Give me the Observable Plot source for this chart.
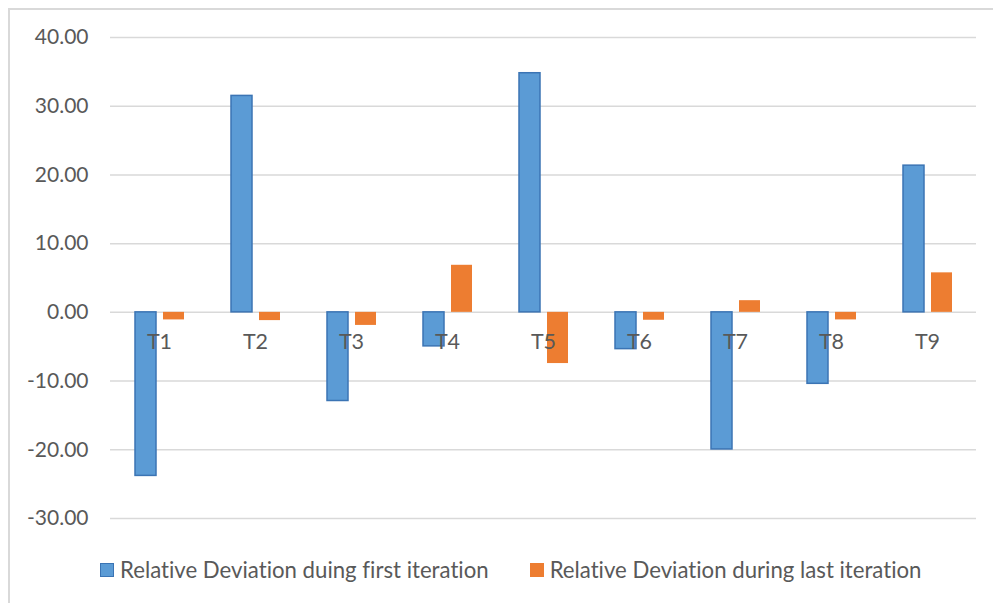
<!DOCTYPE html>
<html>
<head>
<meta charset="utf-8">
<script src="https://cdn.jsdelivr.net/npm/d3@7"></script>
<script src="https://cdn.jsdelivr.net/npm/@observablehq/plot@0.6"></script>
<style>
  html, body { margin: 0; padding: 0; background: #fff; }
  #wrap { position: relative; width: 993px; height: 603px; overflow: hidden; font-family: Lato, "Open Sans", sans-serif; }
  #frame { position: absolute; left: 8px; top: 8px; width: 1200px; height: 800px;
           border-left: 2px solid #d9d9d9; border-top: 2px solid #d9d9d9; }
  #chart { position: absolute; left: 0; top: 0; }
  #legend { position: absolute; top: 556px; left: 100px; display: flex; align-items: center;
            font-size: 22.2px; color: #595959; white-space: nowrap; font-variant-ligatures: none; }
  .item { display: flex; align-items: center; }
  .sw { width: 14px; height: 14px; margin-right: 6px; box-sizing: border-box; }
</style>
</head>
<body>
<div id="wrap">
  <div id="frame"></div>
  <div id="chart"></div>
  <div id="legend"></div>
</div>
<script>
// Test cases on the x axis
const categories = ["T1", "T2", "T3", "T4", "T5", "T6", "T7", "T8", "T9"];

// Relative deviation (%) per test case
const firstIteration = [-23.8, 31.5, -12.9, -4.95, 34.8, -5.35, -19.95, -10.4, 21.35];
const lastIteration = [-1.1, -1.2, -1.9, 6.85, -7.45, -1.15, 1.7, -1.1, 5.75];

const seriesNames = [
  "Relative Deviation duing first iteration",
  "Relative Deviation during last iteration"
];
const yTicks = [-30, -20, -10, 0, 10, 20, 30, 40];

const blue = "#5b9bd5", blueEdge = "#3b74b4", orange = "#ed7d31";

const firstRows = categories.map((c, i) => ({category: c, value: firstIteration[i]}));
const lastRows = categories.map((c, i) => ({category: c, value: lastIteration[i]}));

const chart = Plot.plot({
  width: 993,
  height: 545,
  marginLeft: 110,
  marginRight: 17,
  marginTop: 37,
  marginBottom: 27,
  style: {fontFamily: "Lato, 'Open Sans', sans-serif", fontSize: "21px", color: "#595959", background: "transparent"},
  x: {domain: categories, paddingInner: 0.48, paddingOuter: 0.24, axis: null},
  y: {domain: [-30, 40], ticks: yTicks, tickFormat: d => d.toFixed(2), tickSize: 0, tickPadding: 22, label: null},
  marks: [
    Plot.gridY(yTicks, {stroke: "#d9d9d9", strokeOpacity: 1, strokeWidth: 1.5}),
    Plot.axisY({ticks: yTicks, tickFormat: d => d.toFixed(2), tickSize: 0, tickPadding: 22, fill: "#595959", label: null}),
    Plot.barY(firstRows, {x: "category", y: "value", fill: blue, stroke: blueEdge, strokeWidth: 1.5, insetRight: 28, insetLeft: 1}),
    Plot.barY(lastRows, {x: "category", y: "value", fill: orange, insetLeft: 29}),
    Plot.text(categories, {x: d => d, y: () => 0, dy: 30, fill: "#595959", fontSize: 21.5})
  ]
});
document.getElementById("chart").appendChild(chart);

// Legend below the plot
const legend = d3.select("#legend");
const colors = [[blue, blueEdge], [orange, orange]];
seriesNames.forEach((name, i) => {
  const item = legend.append("div").attr("class", "item").style("margin-right", i === 0 ? "41px" : "0");
  item.append("div").attr("class", "sw")
    .style("background", colors[i][0])
    .style("border", `1.5px solid ${colors[i][1]}`);
  item.append("span").text(name);
});
</script>
</body>
</html>
